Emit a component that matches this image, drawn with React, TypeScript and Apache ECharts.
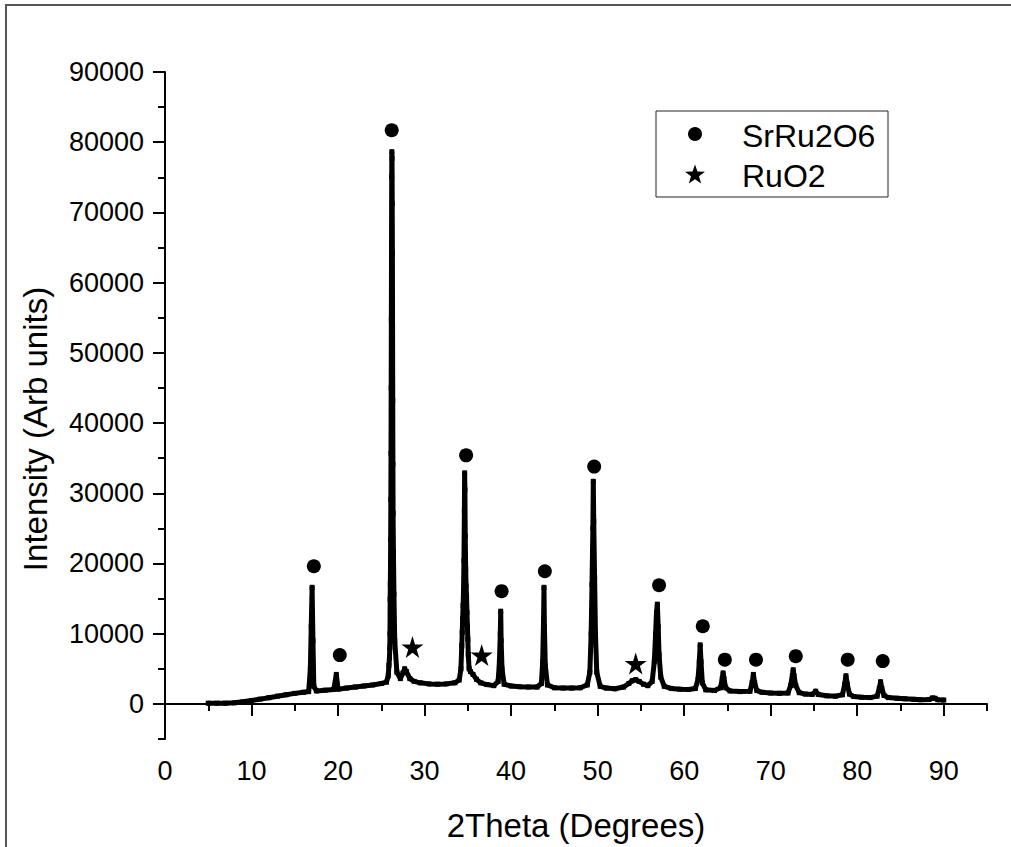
import React, { useEffect, useRef } from "react";
import * as echarts from "echarts";

// XRD pattern (2Theta in degrees, intensity in arb. units)
const twoTheta = [
  5.0, 6.0, 7.0, 8.0, 9.0, 10.0, 11.0, 12.0, 13.0, 14.0, 15.0, 16.0, 16.6, 16.8, 16.9, 17.0, 17.1, 17.2, 17.5,
  18.5, 19.5, 19.8, 20.0, 21.0, 22.0, 23.0, 24.0, 25.0, 25.6, 25.8, 25.88, 25.94, 25.98,
  26.0, 26.02, 26.04, 26.06, 26.08, 26.1, 26.12, 26.14, 26.16, 26.18, 26.2, 26.22, 26.24, 26.26, 26.28,
  26.3, 26.32, 26.34, 26.36, 26.4, 26.46, 26.55, 26.8, 27.2, 27.5, 27.7, 27.9, 28.3, 28.8, 29.5, 30.5,
  31.5, 32.5, 33.5, 34.0, 34.2, 34.3, 34.35, 34.4, 34.45, 34.5, 34.55, 34.6, 34.63, 34.66, 34.7, 34.75,
  34.8, 34.85, 34.9, 34.95, 35.0, 35.05, 35.15, 35.3, 35.6, 36.0, 36.5, 37.2, 38.0, 38.5, 38.65, 38.75,
  38.8, 38.85, 38.95, 39.2, 40.0, 41.0, 42.0, 43.0, 43.5, 43.65, 43.75, 43.8, 43.85, 43.95, 44.2, 45.0,
  46.0, 47.0, 48.0, 48.8, 49.1, 49.25, 49.35, 49.45, 49.5, 49.55, 49.65, 49.75, 49.9, 50.3, 51.0, 52.0,
  53.0, 53.6, 54.0, 54.4, 54.8, 55.3, 55.8, 56.3, 56.55, 56.7, 56.8, 56.9, 57.0, 57.1, 57.3, 57.7, 58.5,
  59.5, 60.5, 61.3, 61.6, 61.75, 61.85, 61.95, 62.1, 62.5, 63.5, 64.2, 64.4, 64.5, 64.6, 64.8, 65.3,
  66.5, 67.6, 67.85, 68.0, 68.15, 68.4, 69.0, 70.0, 71.0, 72.0, 72.3, 72.5, 72.6, 72.7, 72.9, 73.3,
  74.0, 74.8, 75.2, 75.5, 76.5, 77.5, 78.3, 78.55, 78.7, 78.85, 79.1, 79.6, 80.5, 81.5, 82.3, 82.55,
  82.7, 82.85, 83.1, 83.6, 84.6, 85.5, 86.5, 87.3, 88.3, 88.7, 89.0, 89.3, 90.0,
];
const intensity = [
  100, 100, 100, 150, 300, 480, 680, 880, 1100, 1300, 1500, 1650, 1750, 5000, 11000, 16600, 9000, 2500, 1850,
  1950, 2050, 4200, 2100, 2250, 2400, 2550, 2700, 2900, 3100, 4000, 5500, 6500, 8000,
  10000, 14900, 17050, 19430, 23450, 29130, 35670, 45020, 54710, 65700, 75070, 78630, 77690, 71300, 64190,
  53670, 43200, 34110, 27140, 21640, 15630, 9000, 4500, 3600, 4400, 5000, 4600, 3600, 3200, 3000, 2850,
  2800, 2850, 3000, 3400, 5000, 8300, 10200, 12100, 14000, 16100, 20400, 27500, 32900, 30500, 23900, 19200,
  16800, 15400, 13000, 11100, 9200, 7000, 5000, 4600, 4200, 3500, 3000, 2750, 2600, 3200, 6000, 10000,
  13200, 9000, 5000, 2800, 2550, 2450, 2400, 2400, 2900, 6000, 12000, 16600, 11000, 5500, 2700, 2300,
  2250, 2250, 2300, 2700, 4500, 10000, 17000, 25000, 31700, 26000, 18000, 10000, 4500, 2500, 2250, 2150,
  2400, 2900, 3300, 3450, 3200, 2800, 2600, 3200, 6000, 10000, 13000, 14200, 11000, 7000, 3800, 2500, 2200,
  2100, 2050, 2200, 3500, 6000, 8400, 6000, 3000, 2000, 1900, 2300, 3600, 4400, 3600, 2300, 1850,
  1750, 1800, 3000, 4200, 3000, 1900, 1650, 1550, 1500, 1550, 2600, 4000, 4850, 4000, 2600, 1600,
  1400, 1350, 1800, 1350, 1150, 1100, 1300, 2800, 4000, 2800, 1400, 1050, 950, 900, 1100, 2200,
  3150, 2200, 1200, 900, 800, 720, 650, 600, 620, 850, 800, 600, 550,
];

// Phase markers
const srRu2O6X = [17.2, 20.2, 26.2, 34.8, 38.9, 43.9, 49.6, 57.1, 62.15, 64.7, 68.3, 72.9, 78.9, 82.95];
const srRu2O6Y = [19600, 6950, 81700, 35400, 16060, 18900, 33800, 16900, 11050, 6300, 6300, 6800, 6300, 6100];
const ruO2X = [28.6, 36.6, 54.4];
const ruO2Y = [8100, 6950, 5750];

// Axis ticks
const xMajor = [0, 10, 20, 30, 40, 50, 60, 70, 80, 90];
const xMinor = [5, 15, 25, 35, 45, 55, 65, 75, 85, 95];
const yMajor = [0, 10000, 20000, 30000, 40000, 50000, 60000, 70000, 80000, 90000];
const yMinor = [-5000, 5000, 15000, 25000, 35000, 45000, 55000, 65000, 75000, 85000];

const FONT = "'Liberation Sans', Arial, Helvetica, sans-serif";
const STAR =
  "path://M50,0L61.2,34.5L97.6,34.5L68.2,55.9L79.4,90.5L50,69.1L20.6,90.5L31.8,55.9L2.4,34.5L38.8,34.5Z";

function starPoints(cx: number, cy: number, R: number, r: number) {
  const pts: number[][] = [];
  for (let i = 0; i < 10; i++) {
    const a = (-90 + 36 * i) * (Math.PI / 180);
    const rad = i % 2 === 0 ? R : r;
    pts.push([cx + rad * Math.cos(a), cy + rad * Math.sin(a)]);
  }
  return pts;
}

export default function App() {
  const ref = useRef<HTMLDivElement>(null);
  useEffect(() => {
    if (!ref.current) return;
    const chart = echarts.init(ref.current, undefined, { renderer: "svg" });
    const pattern = twoTheta.map((x, i) => [x, intensity[i]]);
    const dots = srRu2O6X.map((x, i) => [x, srRu2O6Y[i]]);
    const stars = ruO2X.map((x, i) => [x, ruO2Y[i]]);

    const axisLine = { show: true, lineStyle: { color: "#000", width: 2 } };
    const plain = (v: number) => String(v);
    chart.setOption({
      animation: false,
      backgroundColor: "#fff",
      textStyle: { fontFamily: FONT },
      grid: { left: 165, right: 24, top: 72, bottom: 107, containLabel: false },
      xAxis: [
        {
          type: "value",
          min: 0,
          max: 95,
          position: "bottom",
          axisLine,
          axisTick: { show: true, customValues: xMajor, length: 12, lineStyle: { color: "#000", width: 2 } },
          axisLabel: { customValues: xMajor, formatter: plain, color: "#000", fontSize: 27, fontFamily: FONT, margin: 18 },
          splitLine: { show: false },
          name: "2Theta (Degrees)",
          nameLocation: "middle",
          nameGap: 70,
          nameTextStyle: { fontSize: 33, color: "#000", fontFamily: FONT },
        },
        {
          type: "value",
          min: 0,
          max: 95,
          position: "bottom",
          axisLine: { show: false },
          axisTick: { show: true, customValues: xMinor, length: 7, lineStyle: { color: "#000", width: 2 } },
          axisLabel: { show: false },
          splitLine: { show: false },
        },
      ],
      yAxis: [
        {
          type: "value",
          min: -5000,
          max: 90000,
          position: "left",
          axisLine,
          axisTick: { show: true, customValues: yMajor, length: 12, lineStyle: { color: "#000", width: 2 } },
          axisLabel: { customValues: yMajor, formatter: plain, color: "#000", fontSize: 27, fontFamily: FONT, margin: 21 },
          splitLine: { show: false },
          name: "Intensity (Arb units)",
          nameLocation: "middle",
          nameRotate: 90,
          nameGap: 113,
          nameTextStyle: { fontSize: 33, color: "#000", fontFamily: FONT, padding: [0, 47, 0, 0] },
        },
        {
          type: "value",
          min: -5000,
          max: 90000,
          position: "left",
          axisLine: { show: false },
          axisTick: { show: true, customValues: yMinor, length: 7, lineStyle: { color: "#000", width: 2 } },
          axisLabel: { show: false },
          splitLine: { show: false },
        },
      ],
      series: [
        {
          name: "Pattern",
          type: "line",
          xAxisIndex: 0,
          yAxisIndex: 0,
          data: pattern,
          showSymbol: true,
          showAllSymbol: true,
          symbol: "rect",
          symbolSize: 5,
          itemStyle: { color: "#000" },
          lineStyle: { color: "#000", width: 5, join: "round", cap: "round" },
          z: 2,
        },
        {
          name: "SrRu2O6",
          type: "scatter",
          xAxisIndex: 0,
          yAxisIndex: 0,
          data: dots,
          symbol: "circle",
          symbolSize: 14,
          itemStyle: { color: "#000", opacity: 1 },
          z: 3,
        },
        {
          name: "RuO2",
          type: "scatter",
          xAxisIndex: 0,
          yAxisIndex: 0,
          data: stars,
          symbol: STAR,
          symbolSize: 22,
          itemStyle: { color: "#000", opacity: 1 },
          z: 3,
        },
      ],
      graphic: [
        {
          type: "rect",
          shape: { x: 6, y: 5, width: 1100, height: 900 },
          style: { fill: "none", stroke: "#555", lineWidth: 2 },
          silent: true,
        },
        {
          type: "rect",
          shape: { x: 656, y: 111, width: 232, height: 86 },
          style: { fill: "#fff", stroke: "#222", lineWidth: 1 },
          z: 10,
        },
        {
          type: "circle",
          shape: { cx: 695, cy: 134, r: 7 },
          style: { fill: "#000" },
          z: 11,
        },
        {
          type: "polygon",
          shape: { points: starPoints(695, 175, 10.5, 4.2) },
          style: { fill: "#000" },
          z: 11,
        },
        {
          type: "text",
          x: 742,
          y: 136,
          style: { text: "SrRu2O6", font: `32px ${FONT}`, fill: "#000", textVerticalAlign: "middle", verticalAlign: "middle" },
          z: 11,
        },
        {
          type: "text",
          x: 742,
          y: 176,
          style: { text: "RuO2", font: `32px ${FONT}`, fill: "#000", textVerticalAlign: "middle", verticalAlign: "middle" },
          z: 11,
        },
      ],
    });
    return () => chart.dispose();
  }, []);
  return (
    <div
      ref={ref}
      style={{ position: "absolute", left: 0, top: 0, width: 1011, height: 847, background: "#fff" }}
    />
  );
}
